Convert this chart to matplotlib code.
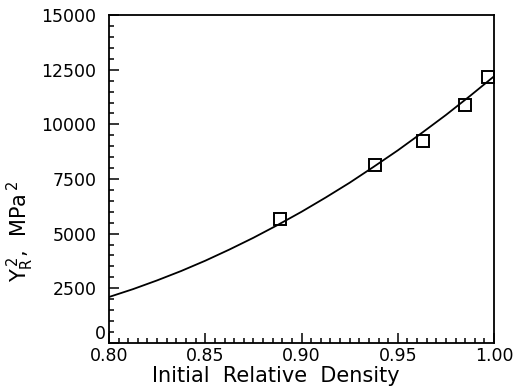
import matplotlib.pyplot as plt
from matplotlib.ticker import MultipleLocator, FuncFormatter

# measured points (squares)
density = [0.889, 0.938, 0.963, 0.985, 0.997]
yr2 = [5650, 8140, 9240, 10880, 12160]

# fitted curve
curve_x = [0.8000, 0.8125, 0.8250, 0.8375, 0.8500, 0.8625, 0.8750, 0.8875, 0.9000,
           0.9125, 0.9250, 0.9375, 0.9500, 0.9625, 0.9750, 0.9875, 1.0000]
curve_y = [2100, 2460, 2860, 3290, 3760, 4270, 4810, 5390, 6000,
           6650, 7330, 8060, 8810, 9610, 10430, 11300, 12200]

fig = plt.figure(figsize=(5.19, 3.87), dpi=100)
ax = fig.add_axes([0.210, 0.114, 0.742, 0.847])

ax.plot(curve_x, curve_y, color='black', lw=1.3)
ax.plot(density, yr2, linestyle='none', marker='s', markersize=9,
        markerfacecolor='none', markeredgecolor='black', markeredgewidth=1.4)

ax.set_xlim(0.80, 1.00)
ax.set_ylim(0, 15000)
ax.xaxis.set_major_locator(MultipleLocator(0.05))
ax.xaxis.set_minor_locator(MultipleLocator(0.005))
ax.yaxis.set_major_locator(MultipleLocator(2500))
ax.yaxis.set_minor_locator(MultipleLocator(500))
ax.xaxis.set_major_formatter(FuncFormatter(lambda v, p: f'{v:.2f}'))
# the "0" is drawn separately, a bit above the corner as in the original
ax.yaxis.set_major_formatter(FuncFormatter(lambda v, p: '' if v == 0 else f'{v:.0f}'))

ax.tick_params(which='both', direction='in', top=False, right=False,
               labelsize=12.5, width=1.1)
ax.tick_params(which='major', length=7)
ax.tick_params(which='minor', length=3.5)
ax.tick_params(axis='x', which='major', pad=3)
ax.tick_params(axis='y', which='major', pad=9)
for s in ax.spines.values():
    s.set_linewidth(1.3)

ax.annotate('0', xy=(0, 0), xycoords='axes fraction', xytext=(-2, 0),
            textcoords='offset points', ha='right', va='bottom', fontsize=12.5)

ax.set_xlabel('Initial  Relative  Density', fontsize=15)
ax.xaxis.set_label_coords(0.434, -0.07)
ax.set_ylabel(r'Y$_{\mathrm{R}}^{\,2}$,  MPa$^{\,2}$', fontsize=15)
ax.yaxis.set_label_coords(-0.19, 0.34)

fig.savefig('out.png', dpi=100)
